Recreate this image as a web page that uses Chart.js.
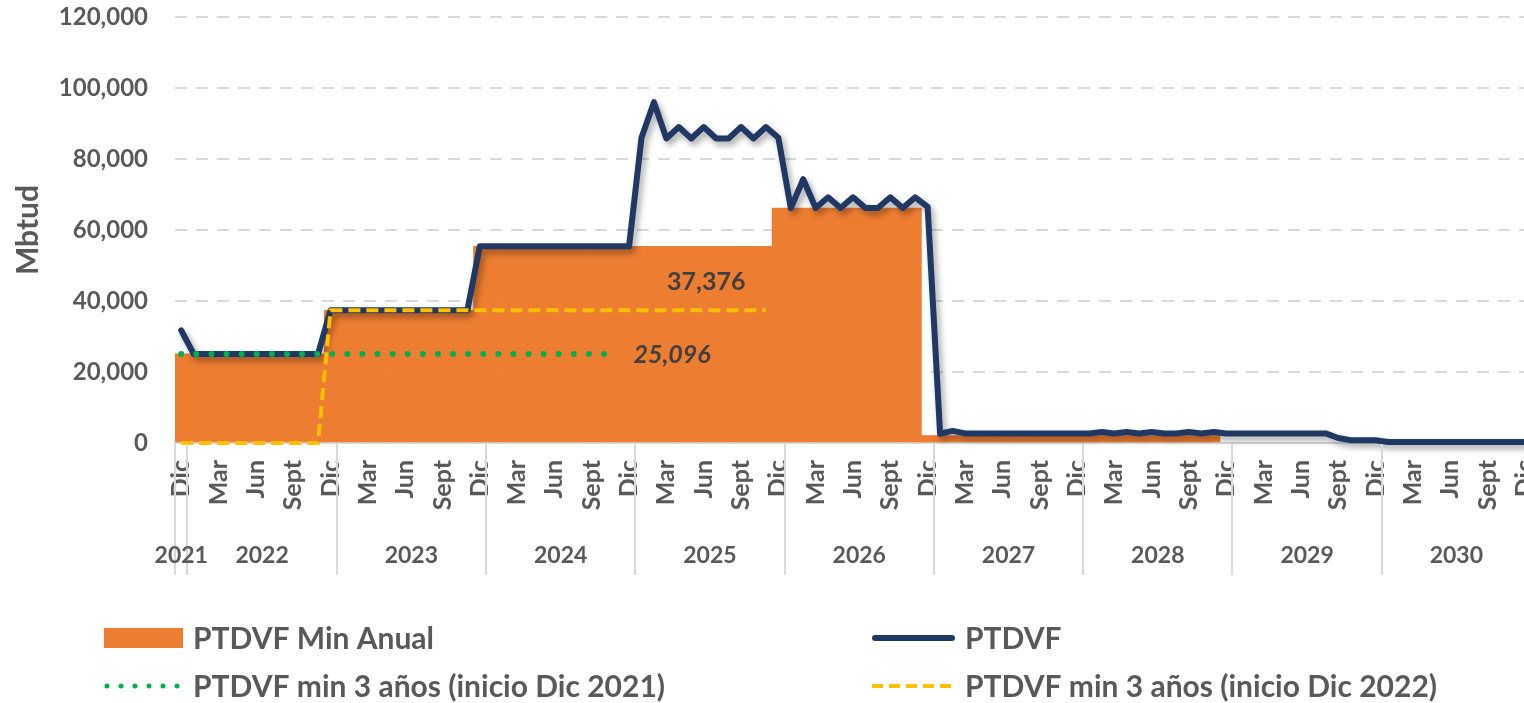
<!DOCTYPE html>
<html>
<head>
<meta charset="utf-8">
<script src="https://cdn.jsdelivr.net/npm/chart.js@4.4.0/dist/chart.umd.min.js"></script>
<style>
html,body{margin:0;padding:0;background:#fff;overflow:hidden;width:1524px;height:703px;}
#wrap{position:absolute;left:0;top:0;width:1531px;height:703px;}
</style>
</head>
<body>
<div id="wrap"><canvas id="c" width="1531" height="703"></canvas></div>
<script>
// ---- Categories (one per month, Dic 2021 .. Dic 2030) ----
const months = [
  'Dic',
  'Ene','Feb','Mar','Abr','May','Jun','Jul','Ago','Sept','Oct','Nov','Dic',
  'Ene','Feb','Mar','Abr','May','Jun','Jul','Ago','Sept','Oct','Nov','Dic',
  'Ene','Feb','Mar','Abr','May','Jun','Jul','Ago','Sept','Oct','Nov','Dic',
  'Ene','Feb','Mar','Abr','May','Jun','Jul','Ago','Sept','Oct','Nov','Dic',
  'Ene','Feb','Mar','Abr','May','Jun','Jul','Ago','Sept','Oct','Nov','Dic',
  'Ene','Feb','Mar','Abr','May','Jun','Jul','Ago','Sept','Oct','Nov','Dic',
  'Ene','Feb','Mar','Abr','May','Jun','Jul','Ago','Sept','Oct','Nov','Dic',
  'Ene','Feb','Mar','Abr','May','Jun','Jul','Ago','Sept','Oct','Nov','Dic',
  'Ene','Feb','Mar','Abr','May','Jun','Jul','Ago','Sept','Oct','Nov','Dic'
];
const years = [
  '2021',
  '2022','2022','2022','2022','2022','2022','2022','2022','2022','2022','2022','2022',
  '2023','2023','2023','2023','2023','2023','2023','2023','2023','2023','2023','2023',
  '2024','2024','2024','2024','2024','2024','2024','2024','2024','2024','2024','2024',
  '2025','2025','2025','2025','2025','2025','2025','2025','2025','2025','2025','2025',
  '2026','2026','2026','2026','2026','2026','2026','2026','2026','2026','2026','2026',
  '2027','2027','2027','2027','2027','2027','2027','2027','2027','2027','2027','2027',
  '2028','2028','2028','2028','2028','2028','2028','2028','2028','2028','2028','2028',
  '2029','2029','2029','2029','2029','2029','2029','2029','2029','2029','2029','2029',
  '2030','2030','2030','2030','2030','2030','2030','2030','2030','2030','2030','2030'
];
// month labels that are shown on the axis
const tickLabels = ['Dic','Mar','Jun','Sept'];
const yTicks = [0, 20000, 40000, 60000, 80000, 100000, 120000];

// ---- Series ----
const seriesNames = [
  'PTDVF Min Anual',
  'PTDVF',
  'PTDVF min 3 años (inicio Dic 2021)',
  'PTDVF min 3 años (inicio Dic 2022)'
];
const ptdvf = [
  31700,
  25096,25096,25096,25096,25096,25096,25096,25096,25096,25096,25096,37376,
  37376,37376,37376,37376,37376,37376,37376,37376,37376,37376,37376,55400,
  55400,55400,55400,55400,55400,55400,55400,55400,55400,55400,55400,55400,
  86000,96000,85800,89000,85800,89000,85800,85800,89000,85800,89000,86000,
  66200,74300,66200,69200,66200,69200,66200,66200,69200,66200,69200,66500,
  2600,3400,2700,2700,2700,2700,2700,2700,2700,2700,2700,2700,
  2700,3100,2700,3100,2700,3100,2700,2700,3100,2700,3100,2700,
  2700,2700,2700,2700,2700,2700,2700,2700,1400,800,800,800,
  300,300,300,300,300,300,300,300,300,300,300,300
];
const minAnual = [
  25096,
  25096,25096,25096,25096,25096,25096,25096,25096,25096,25096,25096,37376,
  37376,37376,37376,37376,37376,37376,37376,37376,37376,37376,37376,55400,
  55400,55400,55400,55400,55400,55400,55400,55400,55400,55400,55400,55400,
  55400,55400,55400,55400,55400,55400,55400,55400,55400,55400,55400,66200,
  66200,66200,66200,66200,66200,66200,66200,66200,66200,66200,66200,2100,
  2100,2100,2100,2100,2100,2100,2100,2100,2100,2100,2100,2100,
  2100,2100,2100,2100,2100,2100,2100,2100,2100,2100,2100,null,
  null,null,null,null,null,null,null,null,null,null,null,null,
  null,null,null,null,null,null,null,null,null,null,null,null
];
const min3Dic2021 = [
  25096,
  25096,25096,25096,25096,25096,25096,25096,25096,25096,25096,25096,25096,
  25096,25096,25096,25096,25096,25096,25096,25096,25096,25096,25096,25096,
  25096,25096,25096,25096,25096,25096,25096,25096,25096,25096,25096,null,
  null,null,null,null,null,null,null,null,null,null,null,null,
  null,null,null,null,null,null,null,null,null,null,null,null,
  null,null,null,null,null,null,null,null,null,null,null,null,
  null,null,null,null,null,null,null,null,null,null,null,null,
  null,null,null,null,null,null,null,null,null,null,null,null,
  null,null,null,null,null,null,null,null,null,null,null,null
];
const min3Dic2022 = [
  0,
  0,0,0,0,0,0,0,0,0,0,0,37376,
  37376,37376,37376,37376,37376,37376,37376,37376,37376,37376,37376,37376,
  37376,37376,37376,37376,37376,37376,37376,37376,37376,37376,37376,37376,
  37376,37376,37376,37376,37376,37376,37376,37376,37376,37376,37376,null,
  null,null,null,null,null,null,null,null,null,null,null,null,
  null,null,null,null,null,null,null,null,null,null,null,null,
  null,null,null,null,null,null,null,null,null,null,null,null,
  null,null,null,null,null,null,null,null,null,null,null,null,
  null,null,null,null,null,null,null,null,null,null,null,null
];
const valueLabels = ['25,096', '37,376'];

// ---- Styling ----
const FONT = 'Lato';
const TXT = '#595959';
const ORANGE = '#ED7D31';
const NAVY = '#203864';
const GREEN = '#00B050';
const YELLOW = '#FFC000';
const GRID = '#D9D9D9';

const shadowPlugin = {
  id: 'shadow',
  beforeDatasetDraw(chart, args) {
    if (args.index === 1) {
      const ctx = chart.ctx;
      ctx.save();
      ctx.shadowColor = 'rgba(0,0,0,0.35)';
      ctx.shadowBlur = 6;
      ctx.shadowOffsetX = 3;
      ctx.shadowOffsetY = 4;
    }
  },
  afterDatasetDraw(chart, args) {
    if (args.index === 1) chart.ctx.restore();
  }
};

const extrasPlugin = {
  id: 'extras',
  afterDraw(chart) {
    const ctx = chart.ctx;
    const xs = chart.scales.x, ys = chart.scales.y;
    const half = (xs.getPixelForValue(1) - xs.getPixelForValue(0)) / 2;
    const base = chart.chartArea.bottom;

    // year groups: dividers + labels
    const groups = [];
    years.forEach((y, i) => {
      if (!groups.length || groups[groups.length - 1].label !== y) groups.push({label: y, from: i, to: i});
      else groups[groups.length - 1].to = i;
    });
    ctx.save();
    ctx.strokeStyle = GRID;
    ctx.lineWidth = 2;
    const lineAt = (x) => { ctx.beginPath(); ctx.moveTo(x, base + 1); ctx.lineTo(x, base + 132); ctx.stroke(); };
    groups.forEach(g => lineAt(Math.round(xs.getPixelForValue(g.from) - half)));
    lineAt(Math.round(xs.getPixelForValue(groups[groups.length - 1].to) + half));
    ctx.fillStyle = TXT;
    ctx.font = 'bold 23px ' + FONT;
    ctx.textAlign = 'center';
    ctx.textBaseline = 'middle';
    groups.forEach(g => {
      const cx = (xs.getPixelForValue(g.from) + xs.getPixelForValue(g.to)) / 2;
      ctx.fillText(g.label, cx, base + 113);
    });

    // value labels
    ctx.fillStyle = '#404040';
    ctx.font = 'italic bold 25px ' + FONT;
    ctx.fillText(valueLabels[0], xs.getPixelForValue(39.45), ys.getPixelForValue(min3Dic2021[0]) + 1);
    ctx.font = 'bold 25px ' + FONT;
    ctx.fillText(valueLabels[1], xs.getPixelForValue(42.2), ys.getPixelForValue(min3Dic2022[12]) - 28);

    // legend
    ctx.font = 'bold 30px ' + FONT;
    ctx.textAlign = 'left';
    ctx.fillStyle = ORANGE;
    ctx.fillRect(104, 628, 79, 20);
    ctx.strokeStyle = NAVY; ctx.lineWidth = 6; ctx.lineCap = 'round';
    ctx.beginPath(); ctx.moveTo(875, 638); ctx.lineTo(952, 638); ctx.stroke();
    ctx.strokeStyle = GREEN; ctx.lineWidth = 5; ctx.setLineDash([0, 14]);
    ctx.beginPath(); ctx.moveTo(107, 686); ctx.lineTo(183, 686); ctx.stroke();
    ctx.strokeStyle = YELLOW; ctx.lineWidth = 4; ctx.lineCap = 'butt'; ctx.setLineDash([11, 6]);
    ctx.beginPath(); ctx.moveTo(872, 686); ctx.lineTo(955, 686); ctx.stroke();
    ctx.setLineDash([]);
    ctx.fillStyle = TXT;
    ctx.fillText(seriesNames[0], 193, 639);
    ctx.fillText(seriesNames[1], 965, 639);
    ctx.fillText(seriesNames[2], 193, 687);
    ctx.fillText(seriesNames[3], 965, 687);
    ctx.restore();
  }
};

function draw() {
  new Chart(document.getElementById('c'), {
    data: {
      labels: months,
      datasets: [
        { type: 'bar', label: seriesNames[0], data: minAnual, backgroundColor: ORANGE, borderWidth: 0,
          barPercentage: 1, categoryPercentage: 1, order: 4 },
        { type: 'line', label: seriesNames[1], data: ptdvf, borderColor: NAVY, borderWidth: 6,
          pointRadius: 0, tension: 0, borderJoinStyle: 'round', borderCapStyle: 'round', clip: false, order: 3 },
        { type: 'line', label: seriesNames[2], data: min3Dic2021, borderColor: GREEN, borderWidth: 6,
          borderDash: [0, 15.1], borderCapStyle: 'round', pointRadius: 0, tension: 0, spanGaps: false, clip: false, order: 2 },
        { type: 'line', label: seriesNames[3], data: min3Dic2022, borderColor: YELLOW, borderWidth: 4,
          borderDash: [12, 6], borderCapStyle: 'butt', pointRadius: 0, tension: 0, clip: false, order: 1 }
      ]
    },
    options: {
      responsive: false,
      animation: false,
      events: [],
      layout: { padding: { top: 17, left: 0, right: 0, bottom: 0 } },
      plugins: { legend: { display: false }, tooltip: { enabled: false } },
      scales: {
        x: {
          type: 'category',
          offset: true,
          grid: { display: false },
          border: { display: true, color: GRID, width: 2 },
          ticks: {
            autoSkip: false, minRotation: 90, maxRotation: 90, padding: 9,
            color: TXT, font: { family: FONT, size: 25, weight: 'bold' },
            callback: function(v, i) { const m = months[i]; return tickLabels.includes(m) ? m : ''; }
          },
          afterFit: (s) => { s.height = 260; s.paddingLeft = 0; s.paddingRight = 0; }
        },
        y: {
          min: 0, max: 120000,
          afterBuildTicks: (s) => { s.ticks = yTicks.map(v => ({ value: v })); },
          grid: { color: GRID, lineWidth: 2, drawTicks: false },
          border: { display: false, dash: [12, 9] },
          ticks: {
            padding: 27, color: TXT, font: { family: FONT, size: 24, weight: 'bold' },
            callback: (v) => Number(v).toLocaleString('en-US')
          },
          title: { display: true, text: 'Mbtud', color: TXT, font: { family: FONT, size: 30, weight: 'bold' },
                   padding: { top: 10, bottom: 0 } },
          afterFit: (s) => { s.width = 175; s.paddingTop = 0; s.paddingBottom = 0; }
        }
      }
    },
    plugins: [shadowPlugin, extrasPlugin]
  });
}
if (document.fonts && document.fonts.load) {
  Promise.all([document.fonts.load('bold 24px Lato'), document.fonts.load('italic bold 24px Lato')])
    .then(draw, draw);
} else { draw(); }
</script>
</body>
</html>
